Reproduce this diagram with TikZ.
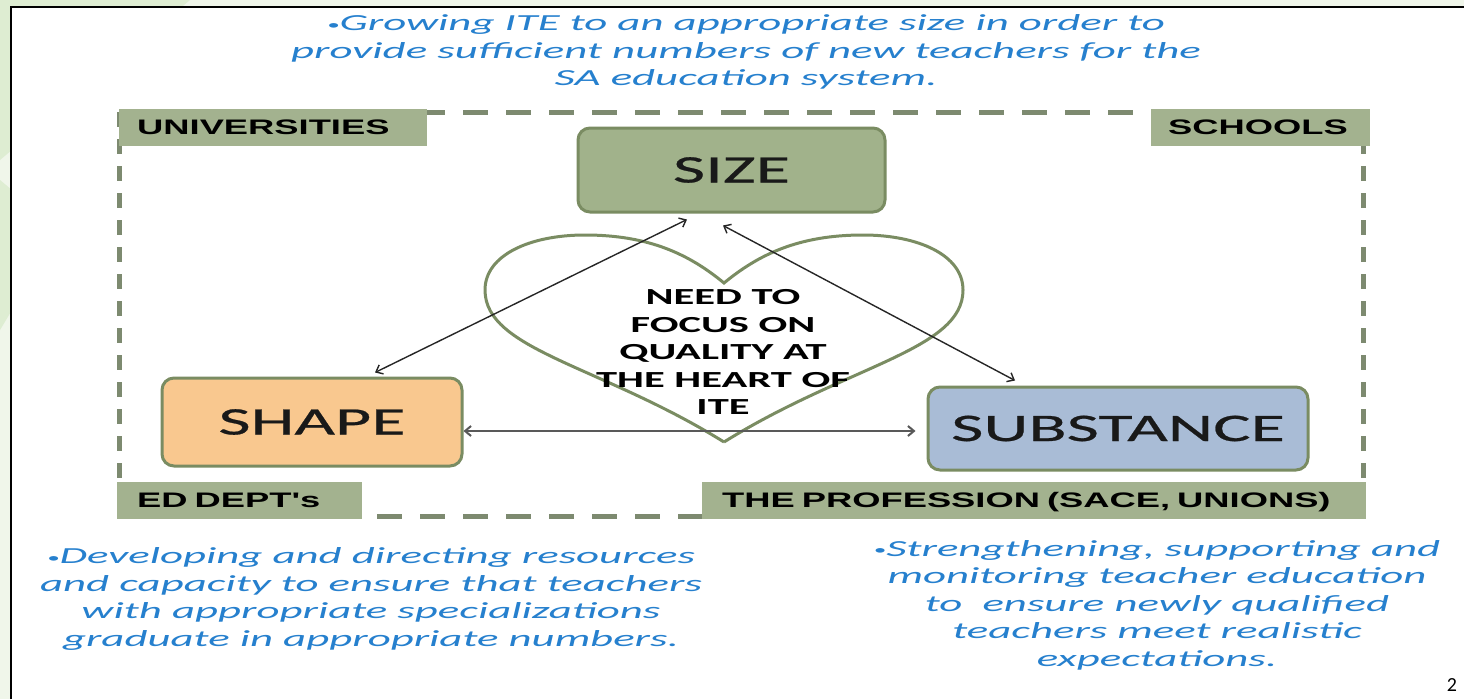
\documentclass[tikz,border=0pt]{standalone}
\usepackage{fontspec}
\setmainfont{Carlito}
\newfontfamily\boxfont[FakeStretch=1.8,FakeBold=0.6]{Carlito}
\newfontfamily\notefont[FakeStretch=1.95]{Carlito}
\newfontfamily\heartfont[FakeStretch=1.85]{Carlito}
\newfontfamily\tagfont[FakeStretch=1.73]{Liberation Sans}
\usetikzlibrary{arrows.meta, positioning}

\definecolor{slidebg}{RGB}{240,246,234}
\definecolor{slideleaf}{RGB}{222,237,210}
\definecolor{olive}{RGB}{122,140,98}
\definecolor{dashgray}{RGB}{125,138,112}
\definecolor{sizegreen}{RGB}{161,178,139}
\definecolor{tangreen}{RGB}{163,178,143}
\definecolor{shapeorange}{RGB}{249,200,143}
\definecolor{substblue}{RGB}{169,188,214}
\definecolor{noteblue}{RGB}{38,128,206}

\newcommand{\dotb}{\raisebox{1.5pt}{\fontsize{13}{13}\selectfont\textbullet}}

\begin{document}
\begin{tikzpicture}[x=1pt, y=-1pt,
    pillar/.style={draw=olive, line width=3pt, rounded corners=12pt, inner sep=0pt, font=\boxfont\fontsize{39}{44}\selectfont, text=black!90},
    tag/.style={fill=tangreen, anchor=north west, minimum height=37pt, inner ysep=0pt, text height=15pt, text depth=1pt, align=left, font=\tagfont\bfseries\fontsize{21}{24}\selectfont},
    note/.style={text=noteblue, align=center, inner sep=0pt, font=\notefont\itshape\fontsize{23}{27.5}\selectfont},
    arrow/.style={{Straight Barb[length=6pt,width=10pt]}-{Straight Barb[length=6pt,width=10pt]}, line width=1.4pt, black!85}
]
    \useasboundingbox (0,0) rectangle (1464,699);

    % Slide background and frame
    \fill[slidebg] (0,0) rectangle (1464,699);
    \fill[slideleaf] (0,0) -- (190,0) -- (0,160) -- cycle;
    \fill[slideleaf] (0,180) -- (60,230) -- (0,330) -- cycle;
    \fill[white] (11,7) rectangle (1464,699);
    \draw[black, line width=2pt] (11,699) -- (11,7) -- (1464,7);

    % Dashed border round the stakeholders
    \draw[dashgray, line width=5pt, dash pattern=on 25pt off 18pt] (119,112) -- (1363,112);
    \draw[dashgray, line width=5pt, dash pattern=on 25pt off 18pt] (119,516) -- (1363,516);
    \draw[dashgray, line width=5pt, dash pattern=on 15pt off 12pt] (119,112) -- (119,516);
    \draw[dashgray, line width=5pt, dash pattern=on 15pt off 12pt] (1363,112) -- (1363,516);

    % Stakeholders
    \node[tag, inner xsep=18pt, text width=272pt] (univ) at (119,109) {UNIVERSITIES};
    \node[tag, inner xsep=17pt, text width=185pt] (schools) at (1151,109) {SCHOOLS};
    \node[tag, inner xsep=20pt, text width=205pt] (eddept) at (117,482) {ED DEPT's};
    \node[tag, inner xsep=20pt, text width=624pt] (prof) at (702,482) {THE PROFESSION (SACE, UNIONS)};

    % Heart
    \draw[olive, line width=3pt] (724,442) .. controls (600,365) and (485,350) .. (485,290)
        .. controls (485,255) and (530,235) .. (585,235)
        .. controls (650,235) and (690,255) .. (724,283)
        .. controls (758,255) and (798,235) .. (863,235)
        .. controls (918,235) and (963,255) .. (963,290)
        .. controls (963,350) and (848,365) .. (724,442);
    \node[align=center, inner sep=0pt, font=\heartfont\bfseries\fontsize{23}{27.5}\selectfont] (focus) at (723,352) {NEED TO\\FOCUS ON\\QUALITY AT\\THE HEART OF\\ITE};

    % The three S's
    \node[pillar, fill=sizegreen, minimum width=307pt, minimum height=84pt] (sizebox) at (731.5,170) {SIZE};
    \node[pillar, fill=shapeorange, minimum width=300pt, minimum height=88pt] (shapebox) at (312,422) {SHAPE};
    \node[pillar, fill=substblue, minimum width=380pt, minimum height=83pt] (substbox) at (1118,428.5) {SUBSTANCE};

    % Connect
    \draw[arrow] ([xshift=63pt,yshift=4pt]shapebox.north) -- ([xshift=-44.5pt,yshift=-6pt]sizebox.south);
    \draw[arrow] ([xshift=-8.5pt,yshift=-12pt]sizebox.south) -- ([xshift=-103pt,yshift=5pt]substbox.north);
    \draw[arrow, line width=2pt, black!65] ([yshift=-9pt]shapebox.east) -- ([xshift=-11pt,yshift=-2.5pt]substbox.west);

    % Notes
    \node[note] (sizenote) at (746,52) {\dotb Growing ITE to an appropriate size in order to\\provide sufficient numbers of new teachers for the\\SA education system.};
    \node[note] (shapenote) at (371,599) {\dotb Developing and directing resources\\and capacity to ensure that teachers\\with appropriate specializations\\graduate in appropriate numbers.};
    \node[note] (substnote) at (1157,605) {\dotb Strengthening, supporting and\\monitoring teacher education\\to\ \ ensure newly qualified\\teachers meet realistic\\expectations.};

    \node[font=\fontsize{20}{22}\selectfont] (page) at (1452,685) {2};
\end{tikzpicture}
\end{document}
